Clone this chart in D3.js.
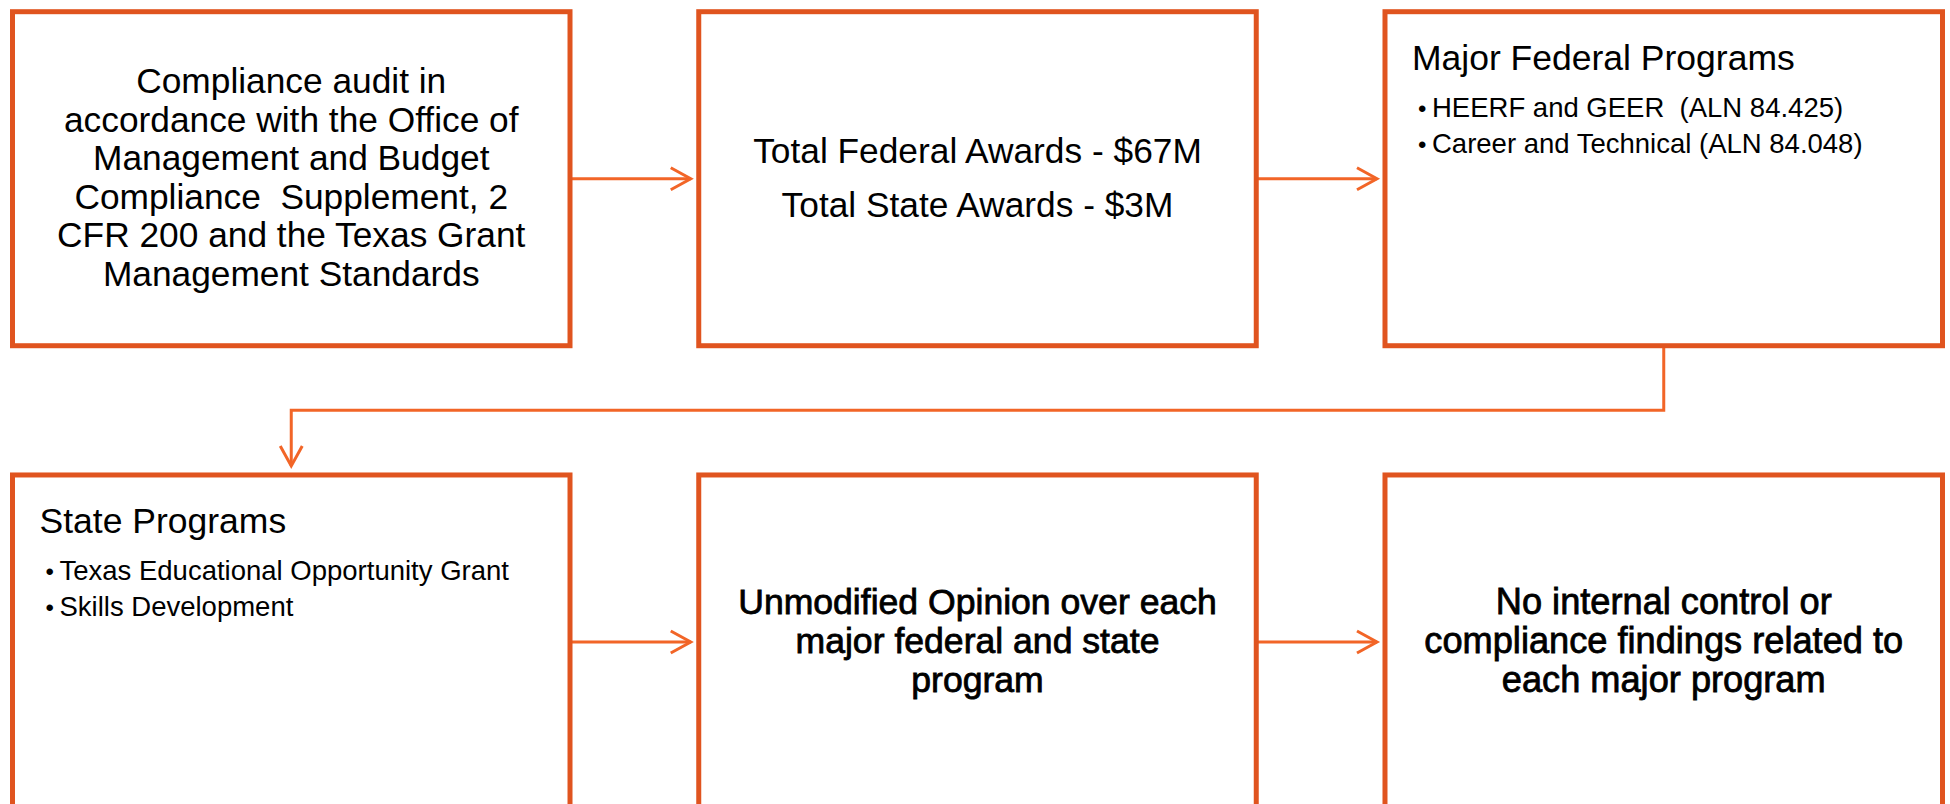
<!DOCTYPE html>
<html>
<head>
<meta charset="utf-8">
<script src="https://cdn.jsdelivr.net/npm/d3@7"></script>
<style>
  body { margin: 0; background: #fff; }
  text { font-family: "Liberation Sans", Arial, sans-serif; fill: #000; white-space: pre; }
</style>
</head>
<body>
<div id="flow"></div>
<script>
var width = 1950;
var height = 804;

// Flow steps, in reading order (3 per row)
const steps = ["audit", "awards", "federal", "state", "opinion", "findings"];

// centred body text per step
const bodyLines = [
  ["Compliance audit in", "accordance with the Office of", "Management and Budget",
   "Compliance  Supplement, 2", "CFR 200 and the Texas Grant", "Management Standards"],
  ["Total Federal Awards - $67M", "Total State Awards - $3M"],
  [],
  [],
  ["Unmodified Opinion over each", "major federal and state", "program"],
  ["No internal control or", "compliance findings related to", "each major program"]
];

// left aligned heading + bullet lists
const headings = ["", "", "Major Federal Programs", "State Programs", "", ""];
const bulletItems = [
  [], [],
  ["HEERF and GEER  (ALN 84.425)", "Career and Technical (ALN 84.048)"],
  ["Texas Educational Opportunity Grant", "Skills Development"],
  [], []
];

// which boxes have heavier text
const emphasis = [false, false, false, false, true, true];

// connections between steps
const links = [[0, 1], [1, 2], [2, 3], [3, 4], [4, 5]];

const boxColor = "#E0541F";
const lineColor = "#F26527";

var svg = d3.select("#flow")
    .append("svg")
    .attr("width", width)
    .attr("height", height);

// grid of boxes
const xScale = d3.scaleBand()
    .domain([0, 1, 2])
    .range([12.5, 1942.5])
    .paddingInner(0.1876);

const yScale = d3.scaleBand()
    .domain([0, 1])
    .range([11.7, 809])
    .paddingInner(0.279);

const col = i => i % 3;
const row = i => Math.floor(i / 3);
const bx = i => xScale(col(i));
const by = i => yScale(row(i));
const bw = xScale.bandwidth();
const bh = yScale.bandwidth();

const fontSize = [35.3, 35.3, 35.3, 35.3, 35.6, 36.2];
const lineHeight = [38.5, 54, 38.5, 38.5, 38.8, 38.8];

// connectors first so boxes sit on top
const conn = svg.append("g")
    .attr("fill", "none")
    .attr("stroke", lineColor)
    .attr("stroke-width", 3);

function arrowHead(x, y, dir) {
    // open chevron, dir: "right" or "down"
    var L = 20, W = 11;
    if (dir === "right")
        return `M${x - L},${y - W}L${x},${y}L${x - L},${y + W}`;
    return `M${x - W},${y - L}L${x},${y}L${x + W},${y - L}`;
}

links.forEach(([a, b]) => {
    if (row(a) === row(b)) {
        var y = by(a) + bh / 2;
        var x0 = bx(a) + bw;
        var x1 = bx(b) - 8;
        conn.append("path").attr("d", `M${x0},${y}H${x1}`);
        conn.append("path").attr("d", arrowHead(x1, y, "right"));
    } else {
        var xa = bx(a) + bw / 2;
        var xb = bx(b) + bw / 2;
        var y0 = by(a) + bh;
        var yMid = (by(a) + bh + by(b)) / 2;
        var y1 = by(b) - 9;
        conn.append("path").attr("d", `M${xa},${y0}V${yMid}H${xb}V${y1}`);
        conn.append("path").attr("d", arrowHead(xb, y1, "down"));
    }
});

// boxes
const boxes = svg.selectAll("g.step")
    .data(steps)
    .enter()
    .append("g")
    .attr("class", "step")
    .attr("transform", (d, i) => `translate(${bx(i)},${by(i)})`);

boxes.append("rect")
    .attr("width", bw)
    .attr("height", bh)
    .attr("fill", "#fff")
    .attr("stroke", boxColor)
    .attr("stroke-width", 5);

// centred text blocks
boxes.each(function (d, i) {
    var lines = bodyLines[i];
    if (!lines.length) return;
    var g = d3.select(this);
    var lh = lineHeight[i];
    var first = bh / 2 - (lines.length - 1) / 2 * lh + fontSize[i] * 0.31;
    g.selectAll("text.body")
        .data(lines)
        .enter()
        .append("text")
        .attr("class", "body")
        .attr("x", bw / 2)
        .attr("y", (t, k) => first + k * lh)
        .attr("text-anchor", "middle")
        .style("font-size", fontSize[i] + "px")
        .style("stroke", emphasis[i] ? "#000" : "none")
        .style("stroke-width", emphasis[i] ? 0.8 : 0)
        .text(t => t);
});

// headings with bullets
boxes.each(function (d, i) {
    if (!headings[i]) return;
    var g = d3.select(this);
    g.append("text")
        .attr("x", 27)
        .attr("y", 58)
        .style("font-size", "35.5px")
        .text(headings[i]);

    var items = g.selectAll("g.item")
        .data(bulletItems[i])
        .enter()
        .append("g")
        .attr("class", "item")
        .attr("transform", (t, k) => `translate(0,${105.5 + k * 35.5})`);

    items.append("text")
        .attr("x", 33)
        .style("font-size", "24px")
        .text("\u2022");

    items.append("text")
        .attr("x", 47)
        .style("font-size", "27.5px")
        .text(t => t);
});
</script>
</body>
</html>
